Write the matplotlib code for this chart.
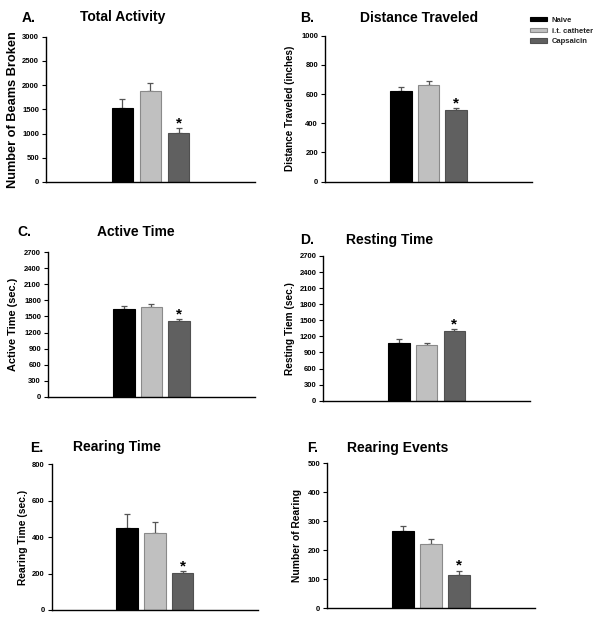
import numpy as np
import matplotlib
matplotlib.use('Agg')
import matplotlib.pyplot as plt

plt.rcParams['font.family'] = ['Liberation Sans', 'DejaVu Sans']

# Data
groups = ['Naive', 'i.t. catheter', 'Capsaicin']
colors = ['#000000', '#c0c0c0', '#606060']
edges = ['#000000', '#8a8a8a', '#505050']

total_activity = [1534, 1879, 1018]
total_activity_err = [173, 158, 90]
distance = [623, 660, 491]
distance_err = [28, 32, 12]
active_time = [1640, 1683, 1410]
active_time_err = [62, 56, 43]
resting_time = [1082, 1039, 1300]
resting_time_err = [64, 32, 32]
rearing_time = [449, 421, 205]
rearing_time_err = [76, 62, 7]
rearing_events = [267, 222, 115]
rearing_events_err = [17, 18, 15]

W, H = 600, 621
fig = plt.figure(figsize=(W / 100, H / 100), dpi=100)

# (letter, title, ylabel, values, errs, ymax, step, axes px box, ylabel size, ylabel x, letter xy, title x)
panels = [
    ('A.', 'Total Activity', 'Number of Beams Broken', total_activity, total_activity_err,
     3000, 500, (46, 36.7, 255, 182), 9.2, 13, (22, 17.5), 80),
    ('B.', 'Distance Traveled', 'Distance Traveled (inches)', distance, distance_err,
     1000, 200, (325, 35.7, 532, 181.7), 7.1, 290, (300, 17.5), 360),
    ('C.', 'Active Time', 'Active Time (sec.)', active_time, active_time_err,
     2700, 300, (48, 252.3, 255, 396.7), 7.9, 13, (17, 232.5), 97),
    ('D.', 'Resting Time', 'Resting Tiem (sec.)', resting_time, resting_time_err,
     2700, 300, (323.3, 256, 530, 400.7), 7.3, 290, (300, 240.5), 346),
    ('E.', 'Rearing Time', 'Rearing Time (sec.)', rearing_time, rearing_time_err,
     800, 200, (51.7, 464.3, 258, 610), 7.4, 23, (30, 447.5), 73),
    ('F.', 'Rearing Events', 'Number of Rearing', rearing_events, rearing_events_err,
     500, 100, (327.3, 463.3, 535, 608.3), 7.4, 297, (307, 448), 347),
]

x = np.arange(3)
legend_bars = None
for letter, title, ylabel, vals, errs, ymax, step, box, ylsize, ylx, lxy, tx in panels:
    x0, y0, x1, y1 = box
    ax = fig.add_axes([x0 / W, 1 - y1 / H, (x1 - x0) / W, (y1 - y0) / H])
    bars = ax.bar(x, vals, width=0.78, color=colors, edgecolor=edges, linewidth=0.8,
                  zorder=2)
    ax.errorbar(x, vals, yerr=[[0, 0, 0], errs], fmt='none', ecolor='#555555',
                elinewidth=0.9, capsize=2.5, capthick=0.9, zorder=1)
    ax.annotate('*', (2, vals[2] + errs[2]), xytext=(0, -1.5), textcoords='offset points',
                ha='center', va='bottom', fontsize=11, fontweight='bold')
    ax.set_xlim(-2.73, 4.73)
    ax.set_ylim(0, ymax)
    ax.set_yticks(np.arange(0, ymax + 1, step))
    ax.set_xticks([])
    for s in ['top', 'right']:
        ax.spines[s].set_visible(False)
    for s in ['left', 'bottom']:
        ax.spines[s].set_linewidth(1.0)
    ax.tick_params(axis='y', direction='out', length=3, width=0.8, labelsize=5.5, pad=2)
    for lab in ax.get_yticklabels():
        lab.set_fontweight('bold')
    fig.text(ylx / W, 1 - (y0 + y1) / 2 / H, ylabel, rotation=90, ha='center', va='center',
             fontsize=ylsize, fontweight='bold')
    fig.text(lxy[0] / W, 1 - lxy[1] / H, letter, ha='left', va='center',
             fontsize=10, fontweight='bold')
    fig.text(tx / W, 1 - lxy[1] / H, title, ha='left', va='center',
             fontsize=10, fontweight='bold')
    if letter == 'B.':
        legend_bars = bars

leg = fig.legend(legend_bars, groups, loc='upper left', bbox_to_anchor=(526 / W, 1 - 13 / H),
                 frameon=False, handlelength=2.3, handleheight=0.55,
                 handletextpad=0.6, labelspacing=0.5, borderpad=0,
                 prop={'weight': 'bold', 'size': 5.5})
for t in leg.get_texts():
    t.set_color('#222222')

fig.savefig('out.png', dpi=100)
